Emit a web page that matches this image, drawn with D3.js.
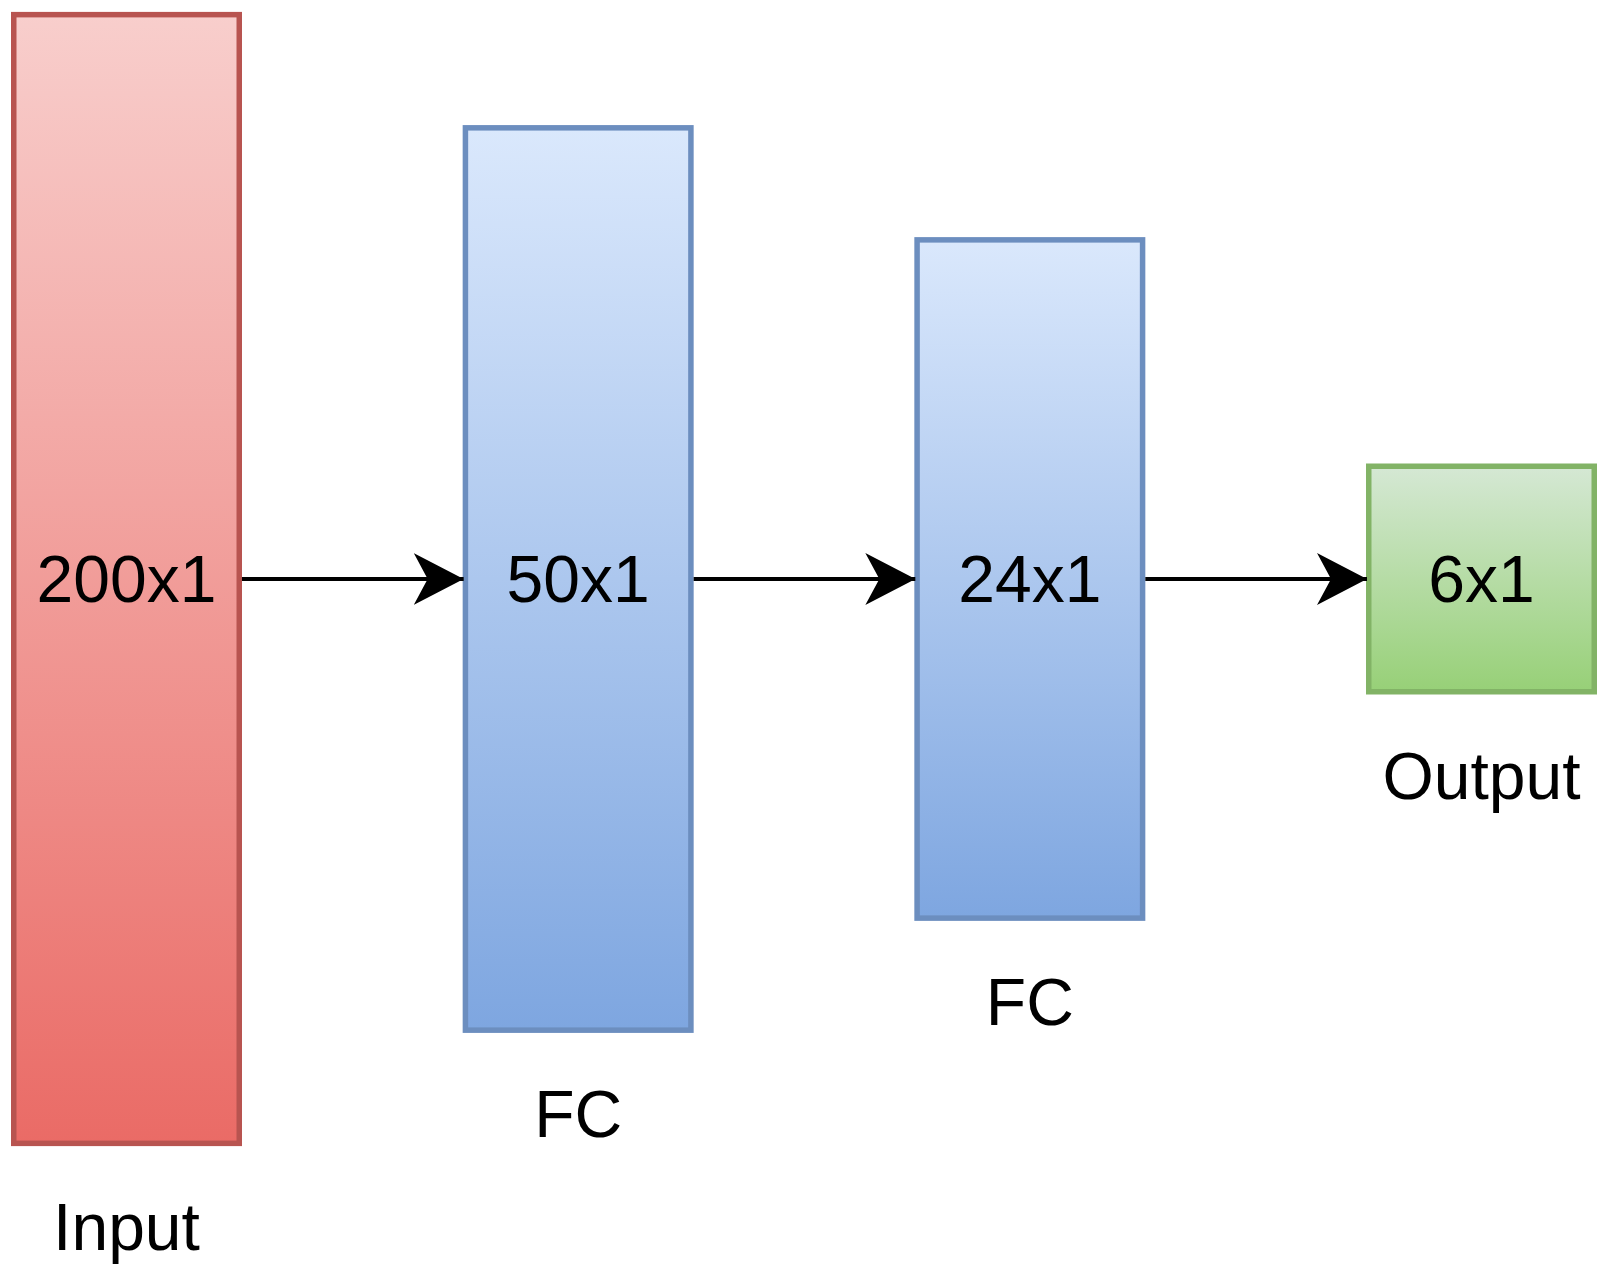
<!DOCTYPE html>
<html>
<head>
<meta charset="utf-8">
<script src="https://cdn.jsdelivr.net/npm/d3@7"></script>
<style>
  body { margin: 0; background: #fff; }
  text { font-family: "Liberation Sans", Arial, Helvetica, sans-serif; fill: #000; }
</style>
</head>
<body>
<div id="diagram"></div>
<script>
// Layers of the network, left to right
var layerSizes = ["200x1", "50x1", "24x1", "6x1"];
var layerNames = ["Input", "FC", "FC", "Output"];
var layerTypes = ["input", "fc", "fc", "output"];
// Box heights in diagram units (box width is 100 units)
var boxHeights = [491, 393, 296, 100];
var boxWidth = 100;

var svgWidth = 1614;
var svgHeight = 1281;

var svg = d3.select("#diagram")
    .append("svg")
    .attr("width", svgWidth)
    .attr("height", svgHeight);

// Colours per layer type (top of gradient, bottom of gradient, border)
var topColor = d3.scaleOrdinal()
    .domain(["input", "fc", "output"])
    .range(["#f8cecc", "#dae8fc", "#d5e8d4"]);
var bottomColor = d3.scaleOrdinal()
    .domain(["input", "fc", "output"])
    .range(["#ea6b66", "#7ea6e0", "#97d077"]);
var borderColor = d3.scaleOrdinal()
    .domain(["input", "fc", "output"])
    .range(["#b85450", "#6c8ebf", "#82b366"]);

// Diagram units -> pixels
var unit = d3.scaleLinear().domain([0, 100]).range([0, 231]);
// Left edge of every box
var xPos = d3.scalePoint()
    .domain(d3.range(layerSizes.length))
    .range([11, 1366]);
var centerY = 579;
var strokeW = 5.5;
var fontSize = 66;

var layers = layerSizes.map(function(s, i) {
    return { size: s, name: layerNames[i], type: layerTypes[i], h: boxHeights[i], i: i };
});

// Gradients
var defs = svg.append("defs");
["input", "fc", "output"].forEach(function(t) {
    var g = defs.append("linearGradient")
        .attr("id", "grad-" + t)
        .attr("x1", 0).attr("y1", 0)
        .attr("x2", 0).attr("y2", 1);
    g.append("stop").attr("offset", "0%").attr("stop-color", topColor(t));
    g.append("stop").attr("offset", "100%").attr("stop-color", bottomColor(t));
});

// Arrow head
defs.append("marker")
    .attr("id", "arrow")
    .attr("markerUnits", "userSpaceOnUse")
    .attr("viewBox", "0 0 50 52")
    .attr("refX", 50)
    .attr("refY", 26)
    .attr("markerWidth", 50)
    .attr("markerHeight", 52)
    .attr("orient", "auto")
    .append("path")
    .attr("d", "M50,26 L0,0 L14,26 L0,52 Z")
    .attr("fill", "#000");

var boxTop = function(d) { return centerY - unit(d.h) / 2; };

// Boxes
svg.selectAll("rect.layer")
    .data(layers)
    .enter()
    .append("rect")
    .attr("class", "layer")
    .attr("x", d => xPos(d.i) + strokeW / 2)
    .attr("y", d => boxTop(d) + strokeW / 2)
    .attr("width", unit(boxWidth) - strokeW)
    .attr("height", d => unit(d.h) - strokeW)
    .attr("fill", d => "url(#grad-" + d.type + ")")
    .attr("stroke", d => borderColor(d.type))
    .attr("stroke-width", strokeW);

// Connections
svg.selectAll("line.link")
    .data(layers.slice(0, -1))
    .enter()
    .append("line")
    .attr("class", "link")
    .attr("x1", d => xPos(d.i) + unit(boxWidth))
    .attr("x2", d => xPos(d.i + 1) + 1)
    .attr("y1", centerY)
    .attr("y2", centerY)
    .attr("stroke", "#000")
    .attr("stroke-width", 4)
    .attr("marker-end", "url(#arrow)");

// Size text inside boxes
svg.selectAll("text.size")
    .data(layers)
    .enter()
    .append("text")
    .attr("class", "size")
    .attr("x", d => xPos(d.i) + unit(boxWidth) / 2)
    .attr("y", centerY + 23)
    .attr("text-anchor", "middle")
    .attr("font-size", fontSize)
    .text(d => d.size);

// Layer names under boxes
svg.selectAll("text.name")
    .data(layers)
    .enter()
    .append("text")
    .attr("class", "name")
    .attr("x", d => xPos(d.i) + unit(boxWidth) / 2)
    .attr("y", d => centerY + unit(d.h) / 2 + 104)
    .attr("text-anchor", "middle")
    .attr("font-size", fontSize)
    .text(d => d.name);
</script>
</body>
</html>
